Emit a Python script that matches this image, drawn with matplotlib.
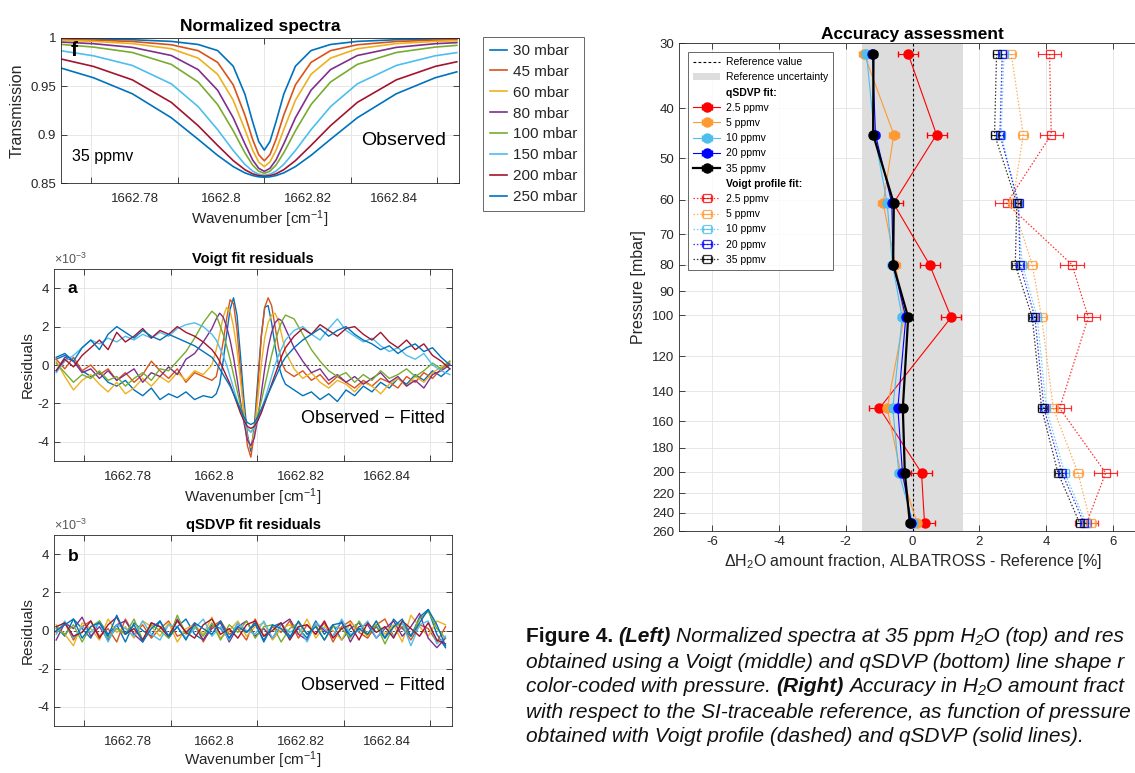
import matplotlib
matplotlib.use("Agg")
import matplotlib.pyplot as plt
from matplotlib.lines import Line2D
from matplotlib.patches import Patch
from matplotlib.ticker import NullLocator

plt.rcParams['font.family'] = ['Liberation Sans', 'DejaVu Sans']
plt.rcParams['mathtext.fontset'] = 'custom'
plt.rcParams['mathtext.rm'] = 'Liberation Sans'
plt.rcParams['mathtext.it'] = 'Liberation Sans:italic'
plt.rcParams['mathtext.bf'] = 'Liberation Sans:bold'
plt.rcParams['axes.unicode_minus'] = False

# ---------------- data: normalized spectra ----------------
pressure_labels = ["30 mbar", "45 mbar", "60 mbar", "80 mbar",
                   "100 mbar", "150 mbar", "200 mbar", "250 mbar"]
spec_colors = ['#0072BD', '#D95319', '#EDB120', '#7E2F8E',
               '#77AC30', '#4DBEEE', '#A2142F', '#0072BD']

spec_wn = [1662.7630, 1662.7705, 1662.7795, 1662.7885, 1662.7947, 1662.7992,
           1662.8028, 1662.8055, 1662.8073, 1662.8087, 1662.8100, 1662.8113,
           1662.8127, 1662.8145, 1662.8172, 1662.8208, 1662.8253, 1662.8315,
           1662.8405, 1662.8495, 1662.8545]
trans_30 = [0.9993, 0.9989, 0.9982, 0.9965, 0.9933, 0.9870, 0.9709, 0.9420, 0.9133, 0.8929, 0.8840,
            0.8929, 0.9133, 0.9420, 0.9709, 0.9870, 0.9933, 0.9965, 0.9982, 0.9989, 0.9992]
trans_45 = [0.9985, 0.9978, 0.9964, 0.9930, 0.9869, 0.9748, 0.9516, 0.9204, 0.8950, 0.8793, 0.8730,
            0.8793, 0.8950, 0.9204, 0.9516, 0.9748, 0.9869, 0.9930, 0.9964, 0.9978, 0.9983]
trans_60 = [0.9975, 0.9965, 0.9942, 0.9889, 0.9792, 0.9625, 0.9357, 0.9054, 0.8839, 0.8717, 0.8670,
            0.8717, 0.8839, 0.9054, 0.9357, 0.9625, 0.9792, 0.9889, 0.9942, 0.9965, 0.9971]
trans_80 = [0.9958, 0.9941, 0.9903, 0.9819, 0.9673, 0.9460, 0.9176, 0.8906, 0.8738, 0.8652, 0.8620,
            0.8652, 0.8738, 0.8906, 0.9176, 0.9460, 0.9673, 0.9819, 0.9903, 0.9941, 0.9952]
trans_100 = [0.9934, 0.9906, 0.9850, 0.9727, 0.9545, 0.9312, 0.9041, 0.8813, 0.8685, 0.8622, 0.8600,
             0.8622, 0.8685, 0.8813, 0.9041, 0.9312, 0.9545, 0.9727, 0.9850, 0.9906, 0.9924]
trans_150 = [0.9868, 0.9816, 0.9716, 0.9526, 0.9290, 0.9052, 0.8837, 0.8693, 0.8623, 0.8591, 0.8580,
             0.8591, 0.8623, 0.8693, 0.8837, 0.9052, 0.9290, 0.9526, 0.9716, 0.9816, 0.9849]
trans_200 = [0.9783, 0.9706, 0.9567, 0.9334, 0.9093, 0.8889, 0.8732, 0.8638, 0.8595, 0.8576, 0.8570,
             0.8576, 0.8595, 0.8638, 0.8732, 0.8889, 0.9093, 0.9334, 0.9567, 0.9706, 0.9754]
trans_250 = [0.9689, 0.9589, 0.9423, 0.9175, 0.8952, 0.8786, 0.8670, 0.8605, 0.8577, 0.8564, 0.8560,
             0.8564, 0.8577, 0.8605, 0.8670, 0.8786, 0.8952, 0.9175, 0.9423, 0.9589, 0.9650]

# ---------------- data: Voigt residuals (x 1e-3) ----------------
voigt_wn = ([1662.7635, 1662.7655, 1662.7675, 1662.7695, 1662.7715, 1662.7735, 1662.7755,
             1662.7775, 1662.7795, 1662.7815, 1662.7835, 1662.7855, 1662.7875, 1662.7895,
             1662.7915, 1662.7935, 1662.7955, 1662.7975, 1662.7995]
            + [1662.8005, 1662.8013, 1662.8021, 1662.8029, 1662.8037, 1662.8045, 1662.8053,
               1662.8061, 1662.8069, 1662.8077, 1662.8085, 1662.8093, 1662.8101, 1662.8109,
               1662.8117, 1662.8125, 1662.8133, 1662.8141, 1662.8149, 1662.8157, 1662.8165]
            + [1662.8185, 1662.8205, 1662.8225, 1662.8245, 1662.8265, 1662.8285, 1662.8305,
               1662.8325, 1662.8345, 1662.8365, 1662.8385, 1662.8405, 1662.8425, 1662.8445,
               1662.8465, 1662.8485, 1662.8505, 1662.8525, 1662.8545])
vres_30 = ([0.3, 0.5, 0.2, -0.3, -0.6, -0.4, -0.9, -1.1, -0.8, -1.3, -1.6, -1.2, -1.8, -1.5, -1.7, -1.4, -1.8, -1.6, -1.7]
           + [-1.5, -1.0, 0.2, 1.6, 2.9, 3.5, 2.6, 0.5, -1.8, -3.6, -4.5, -3.2, -0.8, 1.5, 3.0, 3.1, 2.2, 1.0, 0.0, -0.6, -1.0]
           + [-1.3, -1.6, -1.4, -1.8, -1.5, -1.9, -1.3, -1.6, -1.1, -1.4, -0.9, -1.2, -0.7, -1.0, -0.5, -0.8, -0.3, -0.6, -0.2])
vres_45 = ([0.3, -0.2, 0.4, -0.3, 0.0, -0.5, -0.2, -0.8, -0.4, -0.9, -0.5, 0.2, -0.3, -0.7, -0.2, -0.9, -0.4, -0.6, -0.8]
           + [-0.6, 0.2, 1.2, 2.4, 3.4, 3.2, 1.8, -0.3, -2.5, -4.2, -4.8, -3.6, -1.2, 1.4, 3.0, 3.5, 3.1, 2.0, 0.9, 0.1, -0.3]
           + [-0.6, -0.3, -0.8, -0.5, -1.0, -0.6, -0.9, -1.2, -0.8, -1.1, -0.7, -0.9, -1.2, -0.6, -0.9, -0.4, -0.7, -0.2, 0.1])
vres_60 = ([0.2, -0.6, -1.3, -0.8, -0.5, -1.0, -1.4, -0.9, -1.5, -1.2, -0.7, -1.1, -0.6, -0.9, -0.4, -0.8, -0.3, -0.5, 0.0]
           + [0.8, 1.6, 2.5, 3.0, 2.8, 2.0, 0.8, -0.8, -2.4, -3.8, -4.3, -3.5, -1.8, 0.0, 1.4, 2.2, 2.6, 2.7, 2.3, 1.5, 0.7]
           + [-0.2, -0.7, -0.4, -0.9, -1.2, -0.8, -1.0, -1.4, -0.9, -1.1, -1.5, -1.0, -0.7, -1.1, -0.6, -0.9, -0.4, -0.1, 0.2])
vres_80 = ([-0.3, 0.4, 0.2, -0.4, -0.2, -0.7, -0.3, -0.8, -0.5, -0.2, -0.9, -0.4, -0.6, -0.1, -0.5, 0.3, 0.6, 1.2, 1.9]
           + [2.4, 2.7, 2.5, 2.0, 1.3, 0.4, -0.7, -1.9, -3.0, -3.9, -4.2, -3.8, -2.8, -1.5, -0.2, 0.9, 1.7, 2.2, 2.4, 2.3, 1.9]
           + [0.9, 0.2, -0.4, -0.2, -0.8, -0.5, -0.9, -0.6, -1.0, -0.7, -0.4, -0.9, -0.6, -1.1, -0.8, -1.2, -0.5, -0.3, 0.0])
vres_100 = ([0.1, -0.4, -0.9, -0.5, -0.7, -0.3, -0.8, -0.6, -1.1, -0.7, -0.4, -0.8, -0.2, -0.3, 0.2, 0.7, 1.4, 2.2, 2.8]
            + [2.6, 2.1, 1.6, 1.0, 0.3, -0.5, -1.3, -2.1, -2.8, -3.3, -3.5, -3.2, -2.6, -1.9, -1.1, -0.3, 0.5, 1.2, 1.8, 2.3, 2.6]
            + [2.4, 1.6, 0.8, 0.2, -0.3, -0.6, -0.4, -0.9, -0.5, -0.8, -0.3, -0.7, -0.5, -0.2, -0.6, -0.3, 0.1, -0.2, 0.2])
vres_150 = ([-0.4, 0.2, 0.5, 0.9, 1.3, 1.1, 1.4, 1.2, 1.5, 1.3, 1.6, 1.4, 1.7, 1.5, 1.9, 2.1, 2.2, 2.0, 1.6]
            + [1.3, 0.9, 0.5, 0.0, -0.6, -1.2, -1.8, -2.4, -2.9, -3.3, -3.5, -3.3, -2.9, -2.4, -1.8, -1.2, -0.6, 0.0, 0.5, 0.9, 1.3]
            + [1.8, 2.0, 1.6, 1.3, 1.9, 2.4, 1.8, 1.5, 1.2, 1.4, 1.0, 0.7, 0.9, 0.5, 0.3, 0.6, 0.0, -0.3, -0.5])
vres_200 = ([-0.3, 0.3, -0.1, 0.5, 0.9, 1.3, 0.8, 1.7, 1.2, 1.5, 1.9, 1.4, 1.8, 1.6, 2.0, 1.7, 1.5, 1.2, 0.8]
            + [0.5, 0.2, -0.2, -0.6, -1.0, -1.5, -2.0, -2.5, -2.9, -3.2, -3.3, -3.2, -2.9, -2.5, -2.0, -1.5, -1.0, -0.5, 0.0, 0.5, 0.9]
            + [1.5, 1.9, 1.6, 2.1, 1.8, 1.5, 1.9, 2.0, 1.6, 1.3, 1.7, 1.2, 0.9, 1.3, 0.8, 1.1, 0.5, 0.2, -0.2])
vres_250 = ([0.4, 0.6, 0.2, 0.9, 1.3, 0.8, 1.6, 2.0, 1.7, 1.4, 1.8, 1.5, 1.3, 1.6, 1.4, 1.2, 1.0, 0.7, 0.4]
            + [0.1, -0.2, -0.5, -0.8, -1.1, -1.5, -1.9, -2.3, -2.7, -3.0, -3.1, -3.0, -2.7, -2.3, -1.9, -1.5, -1.1, -0.7, -0.3, 0.1, 0.4]
            + [0.9, 1.3, 1.6, 1.9, 1.5, 1.8, 2.0, 1.6, 1.3, 1.1, 0.8, 1.0, 0.6, 0.9, 1.1, 0.7, 0.9, 0.4, 0.0])

# ---------------- data: qSDVP residuals (x 1e-3) ----------------
qsdvp_wn = [1662.7635, 1662.7655, 1662.7675, 1662.7695, 1662.7715, 1662.7735, 1662.7755, 1662.7775,
            1662.7795, 1662.7815, 1662.7835, 1662.7855, 1662.7875, 1662.7895, 1662.7915, 1662.7935,
            1662.7955, 1662.7975, 1662.7995, 1662.8015, 1662.8035, 1662.8055, 1662.8075, 1662.8095,
            1662.8115, 1662.8135, 1662.8155, 1662.8175, 1662.8195, 1662.8215, 1662.8235, 1662.8255,
            1662.8275, 1662.8295, 1662.8315, 1662.8335, 1662.8355, 1662.8375, 1662.8395, 1662.8415,
            1662.8435, 1662.8455, 1662.8475, 1662.8495, 1662.8515, 1662.8535]
qres_30 = [0.2, -0.3, 0.6, 0.1, -0.4, 0.5, -0.2, 0.3, -0.6, 0.4, 0.0, -0.3, 0.5, -0.4, 0.2, 0.6, -0.2, -0.5, 0.3, 0.1, -0.4, 0.4, -0.1,
           0.3, -0.5, 0.2, 0.4, -0.3, 0.1, -0.4, 0.5, -0.2, 0.3, -0.5, 0.1, 0.4, -0.3, 0.2, -0.4, 0.6, 0.1, -0.3, 0.7, 1.1, -0.2, -0.9]
qres_45 = [-0.1, 0.4, -0.5, 0.2, 0.5, -0.3, 0.1, -0.6, 0.6, -0.2, 0.3, -0.4, 0.1, 0.5, -0.3, -0.1, 0.4, -0.6, 0.2, 0.5, -0.2, 0.1, -0.5,
           0.6, -0.3, 0.2, -0.1, 0.5, -0.4, 0.3, -0.2, 0.4, -0.6, 0.2, 0.5, -0.1, -0.4, 0.3, 0.6, -0.3, 0.2, -0.5, 0.3, 0.1, -0.6, 0.2]
qres_60 = [0.3, -0.2, -0.8, 0.4, 0.1, -0.5, 0.6, -0.1, 0.2, -0.4, 0.5, 0.2, -0.3, 0.4, -0.6, 0.1, 0.3, -0.2, 0.7, -0.4, 0.0, 0.5, -0.3,
           0.2, 0.4, -0.5, 0.1, 0.3, -0.2, 0.6, -0.4, 0.2, 0.0, -0.5, 0.4, 0.1, -0.3, 0.5, -0.2, 0.3, -0.6, 0.8, 0.2, -0.3, 0.5, 0.3]
qres_80 = [-0.5, 0.4, 0.1, 0.7, -0.3, 0.2, -0.5, 0.3, 0.5, -0.2, -0.6, 0.4, 0.2, -0.3, 0.6, -0.1, 0.3, -0.5, 0.1, 0.4, -0.6, 0.2, 0.5,
           -0.3, 0.1, -0.4, 0.3, 0.6, -0.2, -0.5, 0.4, 0.0, -0.3, 0.5, -0.6, 0.2, 0.3, -0.4, 0.1, 0.5, -0.3, 0.2, 0.9, -0.4, -0.9, -0.4]
qres_100 = [0.1, -0.2, 0.3, -0.6, 0.2, 0.5, -0.4, 0.1, -0.2, 0.6, -0.5, 0.3, 0.0, -0.4, 0.8, -0.2, 0.2, -0.3, 0.4, -0.5, 0.3, -0.1, 0.5,
            -0.4, 0.2, 0.3, -0.6, 0.1, 0.4, -0.2, 0.3, -0.5, 0.2, 0.1, -0.4, 0.5, -0.2, 0.3, -0.7, 0.2, 0.4, -0.3, 0.6, 1.0, 0.1, -0.4]
qres_150 = [-0.2, 0.5, -0.4, 0.2, -0.1, 0.4, -0.6, 0.3, 0.1, -0.3, 0.5, -0.2, -0.5, 0.3, 0.2, -0.4, 0.1, 0.6, -0.3, 0.2, -0.5, 0.4, 0.0,
            -0.2, 0.5, -0.4, 0.3, -0.1, 0.2, -0.6, 0.4, 0.1, -0.3, 0.6, -0.2, 0.0, 0.5, -0.4, 0.2, -0.3, 0.4, -0.8, 0.3, 0.5, -0.7, -0.3]
qres_200 = [0.2, 0.4, -0.3, -0.1, 0.5, -0.4, 0.3, 0.7, -0.2, 0.1, -0.5, 0.4, 0.2, -0.3, 0.5, -0.1, -0.4, 0.3, 0.6, -0.2, 0.1, -0.4, 0.3,
            0.5, -0.3, 0.0, 0.4, -0.5, 0.2, 0.3, -0.2, 0.5, -0.4, 0.1, 0.3, -0.5, 0.4, -0.1, 0.2, -0.4, 0.5, 0.1, -0.3, 0.4, -0.5, -0.7]
qres_250 = [0.0, 0.3, 0.6, -0.4, 0.2, 0.4, -0.3, 0.8, -0.2, 0.3, -0.6, 0.1, 0.5, -0.3, 0.2, -0.5, 0.4, 0.1, -0.2, 0.5, -0.4, 0.2, -0.1,
            0.4, -0.6, 0.3, 0.1, -0.4, 0.5, -0.2, 0.2, -0.5, 0.3, 0.4, -0.3, 0.1, -0.2, 0.5, -0.4, 0.2, 0.6, -0.3, 0.4, 1.1, 0.3, -0.8]

# ---------------- data: accuracy assessment ----------------
acc_pressure = [31.5, 45, 61, 80, 101, 151, 201, 251]
conc_labels = ['2.5 ppmv', '5 ppmv', '10 ppmv', '20 ppmv', '35 ppmv']
conc_colors = ['#FF0000', '#FF9933', '#4DBEEE', '#0000FF', '#000000']
qsdvp_2p5 = [-0.13, 0.72, -0.57, 0.51, 1.16, -0.99, 0.27, 0.36]
qsdvp_5 = [-1.45, -0.56, -0.88, -0.51, -0.25, -0.76, -0.35, 0.14]
qsdvp_10 = [-1.38, -1.14, -0.76, -0.60, -0.31, -0.59, -0.41, 0.02]
qsdvp_20 = [-1.20, -1.11, -0.62, -0.58, -0.20, -0.44, -0.30, -0.03]
qsdvp_35 = [-1.17, -1.18, -0.56, -0.58, -0.13, -0.29, -0.23, -0.08]
voigt_2p5 = [4.11, 4.16, 2.82, 4.78, 5.27, 4.41, 5.79, 5.22]
voigt_5 = [2.96, 3.32, 3.00, 3.59, 3.87, 4.22, 4.96, 5.34]
voigt_10 = [2.74, 2.66, 3.15, 3.29, 3.74, 4.01, 4.56, 5.20]
voigt_20 = [2.69, 2.62, 3.18, 3.22, 3.67, 3.94, 4.48, 5.14]
voigt_35 = [2.52, 2.46, 3.13, 3.08, 3.59, 3.87, 4.36, 5.01]
qsdvp_err = [0.30, 0.15, 0.12, 0.10, 0.10]
voigt_err = [0.35, 0.15, 0.12, 0.10, 0.10]
ref_uncertainty = 1.5
pressure_ticks = [30, 40, 50, 60, 70, 80, 90, 100, 120, 140, 160, 180, 200, 220, 240, 260]

# ---------------- figure ----------------
W, H = 1135, 773
fig = plt.figure(figsize=(W / 100, H / 100), dpi=100)
DARK = '#262626'


def rect(l, t, r, b):
    return [l / W, 1 - b / H, (r - l) / W, (b - t) / H]


def matlab_style(ax):
    for s in ax.spines.values():
        s.set_color(DARK)
        s.set_linewidth(0.6)
    ax.tick_params(which='both', direction='in', top=True, right=True,
                   colors=DARK, labelsize=9.5, length=4, width=0.6)
    ax.grid(True, which='major', color='#E3E3E3', linewidth=0.6)
    ax.set_axisbelow(True)


def wn_axis(ax, labelpad=3):
    ax.set_xlim(1662.763, 1662.855)
    ax.set_xticks([1662.77, 1662.79, 1662.81, 1662.83, 1662.85])
    ax.set_xticklabels([''] * 5)
    ax.set_xticks([1662.78, 1662.80, 1662.82, 1662.84], minor=True)
    ax.set_xticklabels(['1662.78', '1662.8', '1662.82', '1662.84'], minor=True)
    ax.tick_params(axis='x', which='minor', length=0, pad=7)
    ax.set_xlabel('Wavenumber [cm$^{-1}$]', fontsize=11, color=DARK, labelpad=labelpad)


# ---- top-left: normalized spectra ----
ax1 = fig.add_axes(rect(61, 38, 459, 183))
matlab_style(ax1)
spectra = [trans_30, trans_45, trans_60, trans_80, trans_100, trans_150, trans_200, trans_250]
lines = []
for T, c, lab in zip(spectra, spec_colors, pressure_labels):
    ln, = ax1.plot(spec_wn, T, color=c, lw=1.2, label=lab)
    lines.append(ln)
wn_axis(ax1)
ax1.set_ylim(0.85, 1.0)
ax1.set_yticks([0.85, 0.9, 0.95, 1.0])
ax1.set_yticklabels(['0.85', '0.9', '0.95', '1'])
ax1.set_ylabel('Transmission', fontsize=11.5, color=DARK, labelpad=4)
ax1.set_title('Normalized spectra', fontsize=12.5, fontweight='bold', pad=5)
ax1.text(0.023, 0.917, 'f', transform=ax1.transAxes, fontsize=15, fontweight='bold', va='center')
ax1.text(0.028, 0.18, '35 ppmv', transform=ax1.transAxes, fontsize=11.5, va='center')
ax1.text(0.967, 0.29, 'Observed', transform=ax1.transAxes, fontsize=14, va='center', ha='right')
leg1 = fig.legend(handles=lines, loc='upper left', bbox_to_anchor=(483 / W, 1 - 37 / H),
                  fontsize=11, handlelength=1.1, handletextpad=0.4, borderpad=0.45,
                  labelspacing=0.45, fancybox=False, frameon=True, borderaxespad=0)
leg1.get_frame().set_edgecolor('#404040')
leg1.get_frame().set_linewidth(0.7)
for t in leg1.get_texts():
    t.set_color(DARK)

# ---- residual panels ----
def residual_panel(pos, wn, series, title, letter, letter_y, obs_y, labelpad):
    ax = fig.add_axes(pos)
    matlab_style(ax)
    ax.axhline(0, color='#404040', ls=(0, (2, 2)), lw=0.7, zorder=0.9)
    for r, c in zip(series, spec_colors):
        n = min(len(wn), len(r))
        ax.plot(wn[:n], r[:n], color=c, lw=1.0)
    wn_axis(ax, labelpad)
    ax.set_ylim(-5, 5)
    ax.set_yticks([-4, -2, 0, 2, 4])
    ax.set_ylabel('Residuals', fontsize=11, color=DARK, labelpad=2)
    ax.set_title(title, fontsize=10.5, fontweight='bold', pad=4)
    ax.text(0.0, 1.01, r'$\times10^{-3}$', transform=ax.transAxes, fontsize=9, color='#555555',
            ha='left', va='bottom')
    ax.text(0.035, letter_y, letter, transform=ax.transAxes, fontsize=12.5, fontweight='bold', va='center')
    ax.text(0.982, obs_y, 'Observed \u2212 Fitted', transform=ax.transAxes, fontsize=13,
            va='center', ha='right')
    return ax


ax2 = residual_panel(rect(54, 269, 452, 461), voigt_wn,
                     [vres_30, vres_45, vres_60, vres_80, vres_100, vres_150, vres_200, vres_250],
                     'Voigt fit residuals', 'a', 0.896, 0.219, 3)
ax3 = residual_panel(rect(54, 535, 452, 726), qsdvp_wn,
                     [qres_30, qres_45, qres_60, qres_80, qres_100, qres_150, qres_200, qres_250],
                     'qSDVP fit residuals', 'b', 0.885, 0.214, 1)

# ---- right: accuracy assessment ----
ax4 = fig.add_axes(rect(679, 43, 1146, 531))
matlab_style(ax4)
ax4.grid(True, which='major', axis='both', color='#E3E3E3', linewidth=0.6)
ax4.set_yscale('log')
ax4.set_ylim(260, 30)
ax4.set_yticks(pressure_ticks)
ax4.set_yticklabels([str(p) for p in pressure_ticks])
ax4.yaxis.set_minor_locator(NullLocator())
ax4.set_xlim(-7, 7)
ax4.set_xticks([-6, -4, -2, 0, 2, 4, 6])
ax4.axvspan(-ref_uncertainty, ref_uncertainty, color='#DDDDDD', zorder=1, lw=0)
ax4.axvline(0, color='k', ls=(0, (2.5, 2)), lw=0.8, zorder=2)

voigt_sets = [voigt_2p5, voigt_5, voigt_10, voigt_20, voigt_35]
qsdvp_sets = [qsdvp_2p5, qsdvp_5, qsdvp_10, qsdvp_20, qsdvp_35]
voigt_handles, qsdvp_handles = [], []
for vals, c, e in zip(voigt_sets, conc_colors, voigt_err):
    h = ax4.errorbar(vals, acc_pressure, xerr=e, fmt='s', ls=(0, (1.2, 1.5)), lw=0.9, color=c,
                     ms=5.5, mfc='none', mec=c, mew=0.9, capsize=2.5, elinewidth=0.8,
                     alpha=0.8, zorder=3)
    voigt_handles.append(h)
for vals, c, e in zip(qsdvp_sets, conc_colors, qsdvp_err):
    lw = 1.6 if c == '#000000' else 0.8
    h = ax4.errorbar(vals, acc_pressure, xerr=e, fmt='o', ls='-', lw=lw, color=c,
                     ms=6.5, mfc=c, mec=c, capsize=2.5, elinewidth=0.8, zorder=4)
    qsdvp_handles.append(h)

ax4.set_ylabel('Pressure [mbar]', fontsize=11.5, color=DARK, labelpad=4)
ax4.set_xlabel(r'$\Delta$H$_2$O amount fraction, ALBATROSS - Reference [%]', fontsize=11.5,
               color=DARK, labelpad=3)
ax4.set_title('Accuracy assessment', fontsize=12.5, fontweight='bold', pad=3)

blank = Line2D([], [], color='none')
handles = ([Line2D([], [], color='k', ls=(0, (2.5, 2)), lw=0.8),
            Patch(facecolor='#DDDDDD', edgecolor='none'), blank]
           + qsdvp_handles + [blank] + voigt_handles)
labels = (['Reference value', 'Reference uncertainty', 'qSDVP fit:'] + conc_labels
          + ['Voigt profile fit:'] + conc_labels)
leg2 = fig.legend(handles, labels, loc='upper left', bbox_to_anchor=(688 / W, 1 - 52 / H),
                  fontsize=7.5, handlelength=2.6, handletextpad=0.5, borderpad=0.5,
                  labelspacing=0.5, fancybox=False, frameon=True, borderaxespad=0)
leg2.get_frame().set_edgecolor('#404040')
leg2.get_frame().set_linewidth(0.7)
for t in leg2.get_texts():
    if t.get_text().endswith(':'):
        t.set_fontweight('bold')

# ---- caption ----
cap_family = ['Liberation Sans', 'DejaVu Sans']
caption_lines = [
    [('Figure 4.', 'bold', 'normal'), ('(Left)', 'bold', 'italic'),
     ('Normalized spectra at 35 ppm H\u2082O (top) and res', 'normal', 'italic')],
    [('obtained using a Voigt (middle) and qSDVP (bottom) line shape r', 'normal', 'italic')],
    [('color-coded with pressure.', 'normal', 'italic'), ('(Right)', 'bold', 'italic'),
     ('Accuracy in H\u2082O amount fract', 'normal', 'italic')],
    [('with respect to the SI-traceable reference, as function of pressure', 'normal', 'italic')],
    [('obtained with Voigt profile (dashed) and qSDVP (solid lines).', 'normal', 'italic')],
]
renderer = fig.canvas.get_renderer()


def line_width(runs, fs):
    total = 0.0
    for k, (text, weight, style) in enumerate(runs):
        p = fig.text(0, 0, text, fontsize=fs, fontweight=weight, fontstyle=style, family=cap_family)
        total += p.get_window_extent(renderer).width
        p.remove()
        if k < len(runs) - 1:
            total += 0.26 * fs * 100 / 72
    return total


x0, y0, dy = 526, 637, 25
max_w = max(line_width(r, 10) for r in caption_lines)
cap_fs = 10 * (1133 - x0) / max_w
space_px = 0.26 * cap_fs * 100 / 72
for i, runs in enumerate(caption_lines):
    x = x0
    for text, weight, style in runs:
        t = fig.text(x / W, 1 - (y0 + i * dy) / H, text, fontsize=cap_fs, fontweight=weight,
                     fontstyle=style, family=cap_family, va='center', ha='left', color='#111111')
        x += t.get_window_extent(renderer).width + space_px

fig.savefig('out.png', dpi=100)
